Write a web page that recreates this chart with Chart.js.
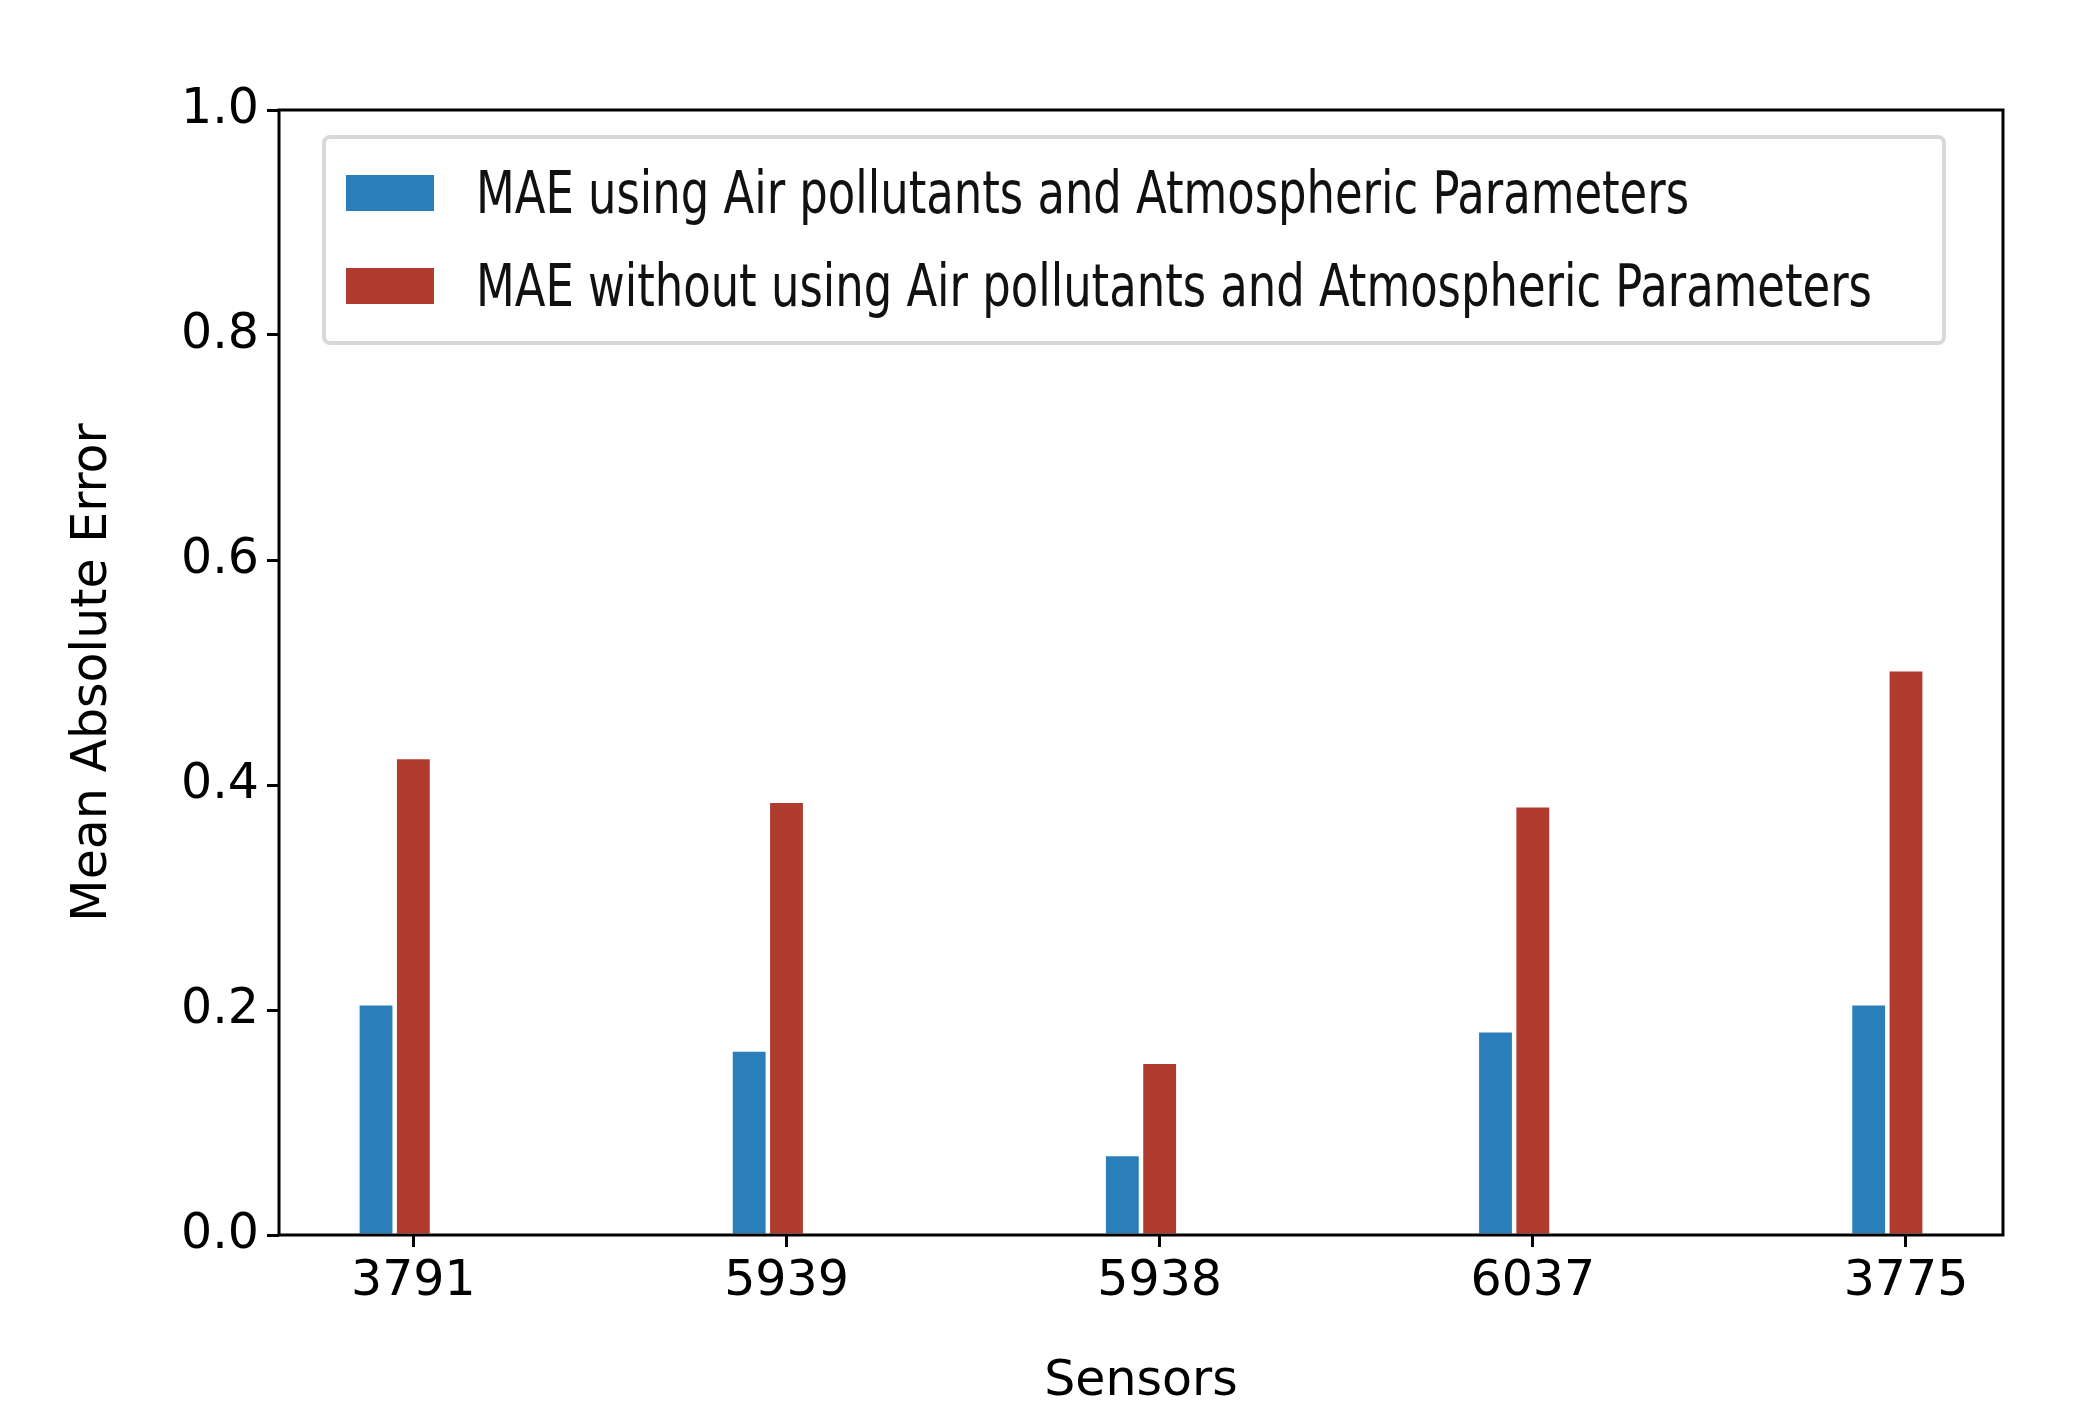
<!DOCTYPE html>
<html>
<head>
<meta charset="utf-8">
<script src="https://cdn.jsdelivr.net/npm/chart.js@4"></script>
<style>
  body { margin: 0; background: #fff; }
  #wrap { position: relative; width: 2090px; height: 1416px; }
  #legend {
    position: absolute; left: 322px; top: 135px; width: 1624px; height: 210px;
    border: 4px solid #d8d8d8; border-radius: 8px; box-sizing: border-box; background: #fff;
    font-family: "Liberation Sans Narrow", "DejaVu Sans Condensed", "Liberation Sans", sans-serif; font-size: 58px; color: #111;
  }
  .row { position: absolute; left: 20px; display: flex; align-items: center; white-space: nowrap; }
  .sw { width: 88px; height: 36px; margin-right: 42px; }
  .row span { display: inline-block; transform: scaleX(0.86); transform-origin: left center; }
</style>
</head>
<body>
<div id="wrap">
  <canvas id="c" width="2090" height="1416"></canvas>
  <div id="legend"></div>
</div>
<script>
// values
const sensors = ['3791', '5939', '5938', '6037', '3775'];
const withParams = [0.204, 0.163, 0.070, 0.180, 0.204];
const withoutParams = [0.423, 0.384, 0.152, 0.380, 0.501];
const seriesLabels = ['MAE using Air pollutants and Atmospheric Parameters',
  'MAE without using Air pollutants and Atmospheric Parameters'];
const colors = ['#2a7fba', '#b03b2f'];

// legend inside the axes, like matplotlib's
const leg = document.getElementById('legend');
seriesLabels.forEach((l, i) => {
  const r = document.createElement('div');
  r.className = 'row';
  r.style.top = (i === 0 ? 20 : 113) + 'px';
  r.innerHTML = '<div class="sw" style="background:' + colors[i] + '"></div><span>' + l + '</span>';
  leg.appendChild(r);
});

const frame = {
  id: 'frame',
  afterDatasetsDraw(chart) {
    const a = chart.chartArea, ctx = chart.ctx;
    ctx.save();
    ctx.strokeStyle = '#000';
    ctx.lineWidth = 3;
    ctx.strokeRect(a.left, a.top, a.right - a.left, a.bottom - a.top);
    ctx.restore();
  }
};

const font = { family: 'DejaVu Sans', size: 49 };

new Chart(document.getElementById('c'), {
  type: 'bar',
  data: {
    datasets: [
      { label: seriesLabels[0], data: withParams.map((v, i) => ({ x: i - 0.1, y: v })), backgroundColor: colors[0] },
      { label: seriesLabels[1], data: withoutParams.map((v, i) => ({ x: i, y: v })), backgroundColor: colors[1] }
    ]
  },
  options: {
    responsive: false,
    animation: false,
    grouped: false,
    barPercentage: 0.88,
    categoryPercentage: 1,
    layout: { padding: { left: 60, top: 110, right: 87, bottom: 0 } },
    plugins: { legend: { display: false }, tooltip: { enabled: false } },
    scales: {
      x: {
        type: 'linear', min: -0.36, max: 4.26, offset: false,
        afterBuildTicks: s => { s.ticks = sensors.map((_, i) => ({ value: i })); },
        afterFit: s => { s.height = 181; },
        ticks: { color: '#000', font: font, padding: 6, autoSkip: false, maxRotation: 0, callback: v => sensors[v] },
        grid: { drawOnChartArea: false, tickLength: 12, color: '#000', lineWidth: 3, offset: false },
        border: { display: false },
        title: { display: true, text: 'Sensors', color: '#000', font: font, padding: { top: 4 } }
      },
      y: {
        min: 0, max: 1,
        afterFit: s => { s.width = 219; },
        ticks: { stepSize: 0.2, color: '#000', font: font, padding: 8, callback: v => v.toFixed(1) },
        grid: { drawOnChartArea: false, tickLength: 12, color: '#000', lineWidth: 3 },
        border: { display: false },
        title: { display: true, text: 'Mean Absolute Error', color: '#000', font: font, padding: { bottom: 0 } }
      }
    }
  },
  plugins: [frame]
});
</script>
</body>
</html>
